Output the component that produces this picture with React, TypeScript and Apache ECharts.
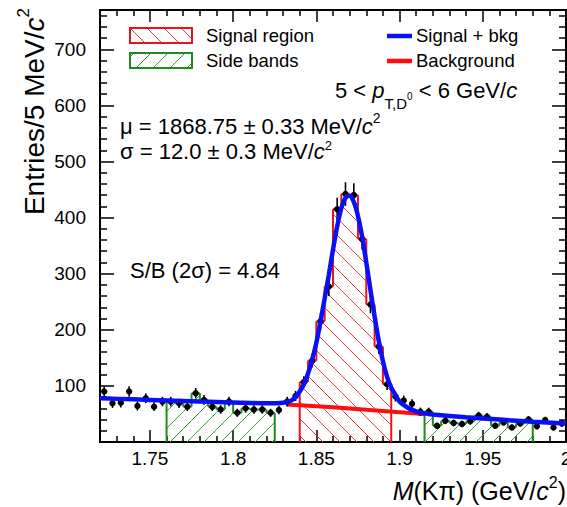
import React, { useEffect, useRef } from 'react';
import * as echarts from 'echarts';

const FONT = "'Liberation Sans', Arial, Helvetica, sans-serif";

// ---- binning & axis ranges ----
const binStart = 1.72;
const binWidth = 0.005;
const xMin = 1.72;
const xMax = 2.0;
const yMin = 0;
const yMax = 770;

// ---- data: entries per 5 MeV bin (1.72 .. 2.00 GeV) ----
const counts = [
  90, 69, 70, 90, 64, 78, 63, 72, 72, 69, 63, 87, 75, 63, 58, 72, 52, 60, 58, 58,
  52, 57, 72, 82, 107, 145, 215, 277, 415, 442, 440, 362, 245, 170, 103, 81, 74, 68, 54, 54,
  29, 38, 34, 32, 37, 47, 45, 29, 35, 26, 33, 40, 28, 39, 26, 33,
];
const countErrors = [
  9.5, 8.3, 8.4, 9.5, 8, 8.8, 7.9, 8.5, 8.5, 8.3, 7.9, 9.3, 8.7, 7.9, 7.6, 8.5, 7.2, 7.7, 7.6, 7.6,
  7.2, 7.5, 8.5, 9.1, 10.3, 12, 14.7, 16.6, 20.4, 21, 21, 19, 15.7, 13, 10.1, 9, 8.6, 8.2, 7.3, 7.3,
  5.4, 6.2, 5.8, 5.7, 6.1, 6.9, 6.7, 5.4, 5.9, 5.1, 5.7, 6.3, 5.3, 6.2, 5.1, 5.7,
];

// ---- regions (GeV) ----
const signalRange = [1.84, 1.895];
const sideBandRanges = [
  [1.76, 1.825],
  [1.915, 1.98],
];

// ---- fit curves ----
const fitMass = [
  1.72, 1.74, 1.76, 1.78, 1.8, 1.82, 1.83, 1.835, 1.8375, 1.84, 1.8425, 1.845, 1.8475, 1.85,
  1.8525, 1.855, 1.8575, 1.86, 1.8625, 1.865, 1.8675, 1.87, 1.8725, 1.875, 1.8775, 1.88, 1.8825,
  1.885, 1.8875, 1.89, 1.8925, 1.895, 1.8975, 1.9, 1.905, 1.91, 1.915, 1.92, 1.94, 1.96, 1.98, 2.0,
];
const fitCounts = [
  78, 76, 74, 72, 70.5, 69, 70, 74, 80, 90, 103, 122, 147, 177,
  215, 256, 298, 343, 384, 417, 435, 439, 428, 403, 366, 320, 271,
  224, 180, 144, 116, 97, 84, 72, 61, 54.5, 51, 49, 44, 40, 36, 33,
];
const bkgMass = [1.832, 1.84, 1.86, 1.88, 1.9, 1.915];
const bkgCounts = [67, 65.5, 62, 57.5, 53, 49.5];

// ---- ticks ----
const xTickValues = [1.75, 1.8, 1.85, 1.9, 1.95, 2.0];
const yTickValues = [100, 200, 300, 400, 500, 600, 700];

const xMinorTicks: number[] = [];
for (let k = 0; k <= 28; k++) {
  const v = Math.round((1.72 + 0.01 * k) * 1000) / 1000;
  if (!xTickValues.some((t) => Math.abs(t - v) < 1e-6)) xMinorTicks.push(v);
}
const yMinorTicks: number[] = [];
for (let v = 20; v < yMax; v += 20) if (v % 100 !== 0) yMinorTicks.push(v);

const RED = '#e8141c';
const RED_HATCH = '#e83a3a';
const GREEN = '#1f8a1f';
const GREEN_HATCH = '#3a9a3a';
const BLUE = '#0a10f5';
const BKG_RED = '#ff0d0d';
const HATCH_SPACING = 17;

function binIndex(m: number) {
  return Math.round((m - binStart) / binWidth);
}

function histData(range: number[]) {
  const i0 = binIndex(range[0]);
  const i1 = binIndex(range[1]) - 1;
  const out: number[][] = [];
  for (let i = i0; i <= i1; i++) {
    out.push([
      binStart + i * binWidth,
      binStart + (i + 1) * binWidth,
      counts[i],
      i === i0 ? 0 : counts[i - 1],
      i === i1 ? 1 : 0,
    ]);
  }
  return out;
}

// dir 1: "\" lines (x - y = c), dir -1: "/" lines (x + y = c)
function hatchLines(x0: number, x1: number, yTop: number, yBot: number, spacing: number, dir: number) {
  const segs: number[][] = [];
  if (dir === 1) {
    const cMin = x0 - yBot;
    const cMax = x1 - yTop;
    for (let k = Math.ceil(cMin / spacing); k * spacing <= cMax; k++) {
      const c = k * spacing;
      const xa = Math.max(x0, yTop + c);
      const xb = Math.min(x1, yBot + c);
      if (xb > xa) segs.push([xa, xa - c, xb, xb - c]);
    }
  } else {
    const cMin = x0 + yTop;
    const cMax = x1 + yBot;
    for (let k = Math.ceil(cMin / spacing); k * spacing <= cMax; k++) {
      const c = k * spacing;
      const xa = Math.max(x0, c - yBot);
      const xb = Math.min(x1, c - yTop);
      if (xb > xa) segs.push([xa, c - xa, xb, c - xb]);
    }
  }
  return segs;
}

function hatchElements(x0: number, x1: number, yTop: number, yBot: number, dir: number, color: string) {
  return hatchLines(x0, x1, yTop, yBot, HATCH_SPACING, dir).map((s) => ({
    type: 'line',
    shape: { x1: s[0], y1: s[1], x2: s[2], y2: s[3] },
    style: { stroke: color, lineWidth: 1 },
    silent: true,
  }));
}

function makeHistRender(color: string, hatchColor: string, dir: number) {
  return (params: any, api: any) => {
    const lo = api.value(0);
    const hi = api.value(1);
    const v = api.value(2);
    const prev = api.value(3);
    const last = api.value(4);
    const pLo = api.coord([lo, 0]);
    const pHi = api.coord([hi, v]);
    const pPrev = api.coord([lo, prev]);
    const x0 = pLo[0];
    const yb = pLo[1];
    const x1 = pHi[0];
    const yt = pHi[1];
    const children: any[] = hatchElements(x0, x1, yt, yb, dir, hatchColor);
    const ls = { stroke: color, lineWidth: 2 };
    children.push({ type: 'line', shape: { x1: x0, y1: yt, x2: x1, y2: yt }, style: ls });
    children.push({ type: 'line', shape: { x1: x0, y1: pPrev[1], x2: x0, y2: yt }, style: ls });
    if (last) children.push({ type: 'line', shape: { x1: x1, y1: yt, x2: x1, y2: yb }, style: ls });
    return { type: 'group', children };
  };
}

// --- text helpers ---
let measureCtx: CanvasRenderingContext2D | null = null;
function measure(text: string, size: number, italic = false) {
  if (!measureCtx) measureCtx = document.createElement('canvas').getContext('2d');
  measureCtx!.font = `${italic ? 'italic ' : ''}${size}px ${FONT}`;
  return measureCtx!.measureText(text).width;
}

type Part = { t: string; size: number; italic?: boolean; dy?: number };

function textRun(parts: Part[], x: number, y: number, align: 'left' | 'right' = 'left') {
  const widths = parts.map((p) => measure(p.t, p.size, p.italic));
  const total = widths.reduce((a, b) => a + b, 0);
  let cx = align === 'left' ? x : x - total;
  const els: any[] = [];
  parts.forEach((p, i) => {
    const lead = p.t.length - p.t.replace(/^\s+/, '').length;
    const leadW = lead ? measure(p.t.slice(0, lead), p.size, p.italic) : 0;
    els.push({
      type: 'text',
      x: cx + leadW,
      y: y + (p.dy || 0),
      silent: true,
      style: {
        text: p.t.trim(),
        fontSize: p.size,
        fontFamily: FONT,
        fontStyle: p.italic ? 'italic' : 'normal',
        fill: '#000',
        align: 'left',
        verticalAlign: 'middle',
        textAlign: 'left',
        textVerticalAlign: 'middle',
      },
    });
    cx += widths[i];
  });
  return els;
}

function buildOption() {
  const lbl = { fontSize: 19, color: '#000', fontFamily: FONT };
  const tickStyle = { color: '#000', width: 1.5 };
  const xBase = { type: 'value', min: xMin, max: xMax, gridIndex: 0, splitLine: { show: false }, axisLine: { show: false, onZero: false } };
  const yBase = { type: 'value', min: yMin, max: yMax, gridIndex: 0, splitLine: { show: false }, axisLine: { show: false, onZero: false } };

  const xAxes = [
    { ...xBase, position: 'bottom', axisTick: { inside: true, length: 12, customValues: xTickValues, lineStyle: tickStyle }, axisLabel: { ...lbl, margin: 7, customValues: xTickValues, formatter: (v: number) => String(v) } },
    { ...xBase, position: 'bottom', axisTick: { inside: true, length: 6, customValues: xMinorTicks, lineStyle: tickStyle }, axisLabel: { show: false } },
    { ...xBase, position: 'top', axisTick: { inside: true, length: 12, customValues: xTickValues, lineStyle: tickStyle }, axisLabel: { show: false } },
    { ...xBase, position: 'top', axisTick: { inside: true, length: 6, customValues: xMinorTicks, lineStyle: tickStyle }, axisLabel: { show: false } },
  ];
  const yAxes = [
    { ...yBase, position: 'left', axisTick: { inside: true, length: 14, customValues: yTickValues, lineStyle: tickStyle }, axisLabel: { ...lbl, margin: 14, customValues: yTickValues } },
    { ...yBase, position: 'left', axisTick: { inside: true, length: 7, customValues: yMinorTicks, lineStyle: tickStyle }, axisLabel: { show: false } },
    { ...yBase, position: 'right', axisTick: { inside: true, length: 14, customValues: yTickValues, lineStyle: tickStyle }, axisLabel: { show: false } },
    { ...yBase, position: 'right', axisTick: { inside: true, length: 7, customValues: yMinorTicks, lineStyle: tickStyle }, axisLabel: { show: false } },
  ];

  const pointData = counts.map((c, i) => [binStart + (i + 0.5) * binWidth, c, countErrors[i]]);

  const series: any[] = [
    {
      type: 'custom',
      name: 'Signal region',
      renderItem: makeHistRender(RED, RED_HATCH, 1),
      data: histData(signalRange),
      encode: { x: [0, 1], y: 2 },
      clip: true,
      z: 2,
    },
    ...sideBandRanges.map((r) => ({
      type: 'custom',
      name: 'Side bands',
      renderItem: makeHistRender(GREEN, GREEN_HATCH, -1),
      data: histData(r),
      encode: { x: [0, 1], y: 2 },
      clip: true,
      z: 2,
    })),
    {
      type: 'line',
      name: 'Background',
      data: bkgMass.map((m, i) => [m, bkgCounts[i]]),
      showSymbol: false,
      smooth: 0.3,
      lineStyle: { color: BKG_RED, width: 4 },
      z: 3,
    },
    {
      type: 'custom',
      name: 'Data',
      data: pointData,
      encode: { x: 0, y: 1 },
      renderItem: (params: any, api: any) => {
        const x = api.value(0);
        const v = api.value(1);
        const e = api.value(2);
        const pLow = api.coord([x, v - e]);
        const pHigh = api.coord([x, v + e]);
        const p = api.coord([x, v]);
        return {
          type: 'group',
          children: [
            { type: 'line', shape: { x1: pLow[0], y1: pLow[1], x2: pHigh[0], y2: pHigh[1] }, style: { stroke: '#000', lineWidth: 1.6 } },
            { type: 'circle', shape: { cx: p[0], cy: p[1], r: 3.2 }, style: { fill: '#000' } },
          ],
        };
      },
      clip: true,
      z: 4,
    },
    {
      type: 'line',
      name: 'Signal + bkg',
      data: fitMass.map((m, i) => [m, fitCounts[i]]),
      showSymbol: false,
      smooth: 0.3,
      lineStyle: { color: BLUE, width: 4.5 },
      z: 5,
    },
  ];

  const legendFont = 18.5;
  const graphic: any[] = [
    // legend boxes
    ...hatchElements(130, 192, 28, 43, 1, RED_HATCH),
    { type: 'rect', shape: { x: 130, y: 28, width: 62, height: 15 }, style: { fill: 'none', stroke: RED, lineWidth: 2 } },
    ...hatchElements(130, 192, 53, 68, -1, GREEN_HATCH),
    { type: 'rect', shape: { x: 130, y: 53, width: 62, height: 15 }, style: { fill: 'none', stroke: GREEN, lineWidth: 2 } },
    { type: 'line', shape: { x1: 387, y1: 36, x2: 412, y2: 36 }, style: { stroke: BLUE, lineWidth: 4.5 } },
    { type: 'line', shape: { x1: 387, y1: 61, x2: 412, y2: 61 }, style: { stroke: BKG_RED, lineWidth: 4.5 } },
    ...textRun([{ t: 'Signal region', size: legendFont }], 206, 35),
    ...textRun([{ t: 'Side bands', size: legendFont }], 206, 60),
    ...textRun([{ t: 'Signal + bkg', size: legendFont }], 416, 35),
    ...textRun([{ t: 'Background', size: legendFont }], 416, 60),
    // kinematic range
    ...textRun(
      [
        { t: '5 < ', size: 22 },
        { t: 'p', size: 22, italic: true },
        { t: 'T,D', size: 15, dy: 13 },
        { t: '0', size: 10, dy: 6 },
        { t: ' < 6 GeV/', size: 22 },
        { t: 'c', size: 22, italic: true },
      ],
      335,
      90,
    ),
    // fit parameters
    ...textRun(
      [
        { t: 'μ = 1868.75 ± 0.33 MeV/', size: 22 },
        { t: 'c', size: 22, italic: true },
        { t: '2', size: 14, dy: -8 },
      ],
      120,
      126,
    ),
    ...textRun(
      [
        { t: 'σ = 12.0 ± 0.3 MeV/', size: 22 },
        { t: 'c', size: 22, italic: true },
        { t: '2', size: 13, dy: -6 },
      ],
      120,
      151,
    ),
    ...textRun([{ t: 'S/B (2σ) = 4.84', size: 22 }], 130, 270),
    // x axis title
    ...textRun(
      [
        { t: 'M', size: 25, italic: true },
        { t: '(Kπ) (GeV/', size: 25 },
        { t: 'c', size: 25, italic: true },
        { t: '2', size: 16, dy: -9 },
        { t: ')', size: 25 },
      ],
      566,
      491,
      'right',
    ),
    // y axis title (rotated)
    {
      type: 'group',
      x: 34,
      y: 8,
      rotation: Math.PI / 2,
      children: textRun(
        [
          { t: 'Entries/5 MeV/', size: 28 },
          { t: 'c', size: 28, italic: true },
          { t: '2', size: 17, dy: -11 },
        ],
        0,
        0,
        'right',
      ),
    },
  ];

  return {
    animation: false,
    backgroundColor: '#ffffff',
    textStyle: { fontFamily: FONT },
    grid: {
      left: 100,
      right: 1,
      top: 10,
      bottom: 65,
      show: true,
      borderColor: '#000',
      borderWidth: 2,
      backgroundColor: 'transparent',
      containLabel: false,
      outerBoundsMode: 'none',
    },
    xAxis: xAxes,
    yAxis: yAxes,
    series,
    graphic,
  };
}

export default function App() {
  const ref = useRef<HTMLDivElement>(null);
  useEffect(() => {
    if (!ref.current) return;
    const chart = echarts.init(ref.current, undefined, { renderer: 'svg' });
    chart.setOption(buildOption() as any);
    return () => chart.dispose();
  }, []);
  return (
    <div
      ref={ref}
      style={{ position: 'fixed', left: 0, top: 0, width: 567, height: 507, background: '#fff' }}
    />
  );
}
